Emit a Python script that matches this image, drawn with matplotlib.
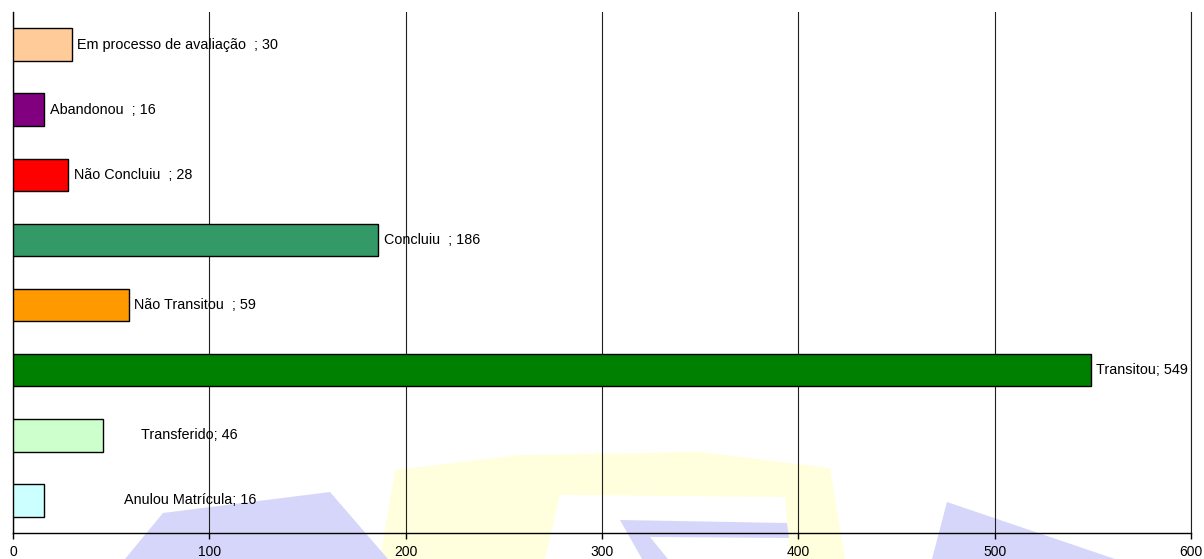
import matplotlib.pyplot as plt
from matplotlib.patches import Polygon

plt.rcParams['font.family'] = ['Liberation Sans', 'DejaVu Sans']

# dados (de baixo para cima)
categorias = ['Anulou Matrícula', 'Transferido', 'Transitou', 'Não Transitou  ',
              'Concluiu  ', 'Não Concluiu  ', 'Abandonou  ', 'Em processo de avaliação  ']
valores = [16, 46, 549, 59, 186, 28, 16, 30]
cores = ['#CCFFFF', '#CCFFCC', '#008000', '#FF9900',
         '#339966', '#FF0000', '#800080', '#FFCC99']
centrado = [True, True, False, False, False, False, False, False]

fig = plt.figure(figsize=(12.04, 5.59), dpi=100)

# marca d'agua ao fundo (pixels da figura)
def px(pts):
    return [(x / 1204, 1 - y / 559) for x, y in pts]

azul = '#D6D6FA'
amarelo = '#FFFFDE'
fig.patches.append(Polygon(px([(380, 559), (395, 470), (520, 455), (700, 452), (830, 468),
                               (845, 559), (790, 559), (785, 497), (560, 495), (545, 559)]),
                           closed=True, transform=fig.transFigure, fc=amarelo, ec='none', zorder=-3))
fig.patches.append(Polygon(px([(125, 559), (163, 513), (330, 492), (388, 559)]),
                           closed=True, transform=fig.transFigure, fc=azul, ec='none', zorder=-2))
fig.patches.append(Polygon(px([(620, 520), (787, 523), (789, 538), (650, 537), (668, 559), (642, 559)]),
                           closed=True, transform=fig.transFigure, fc=azul, ec='none', zorder=-2))
fig.patches.append(Polygon(px([(947, 502), (932, 559), (1115, 559)]),
                           closed=True, transform=fig.transFigure, fc=azul, ec='none', zorder=-2))

ax = fig.add_axes([13 / 1204, 26 / 559, 1178 / 1204, 521 / 559])
ax.patch.set_alpha(0)

y = list(range(len(categorias)))
ax.barh(y, valores, height=0.5, color=cores, edgecolor='black', linewidth=1, zorder=3)

for i in range(len(categorias)):
    txt = categorias[i] + '; ' + str(valores[i])
    if centrado[i]:
        ax.text(90, y[i], txt, ha='center', va='center', fontsize=10.4, zorder=4)
    else:
        ax.annotate(txt, (valores[i], y[i]), xytext=(4, 0), textcoords='offset points',
                    ha='left', va='center', fontsize=10.4, zorder=4)

ax.set_xlim(0, 600)
ax.set_ylim(-0.5, len(categorias) - 0.5)
ax.set_xticks([0, 100, 200, 300, 400, 500, 600])
ax.set_yticks([])
ax.grid(axis='x', color='#202020', linewidth=0.8, zorder=2)
ax.spines['top'].set_visible(False)
ax.spines['right'].set_color('#202020')
ax.spines['right'].set_linewidth(0.8)
ax.spines['left'].set_linewidth(1)
ax.spines['bottom'].set_linewidth(1)
ax.tick_params(axis='x', length=4, width=1, pad=5, labelsize=10)

fig.savefig('out.png', dpi=100)
